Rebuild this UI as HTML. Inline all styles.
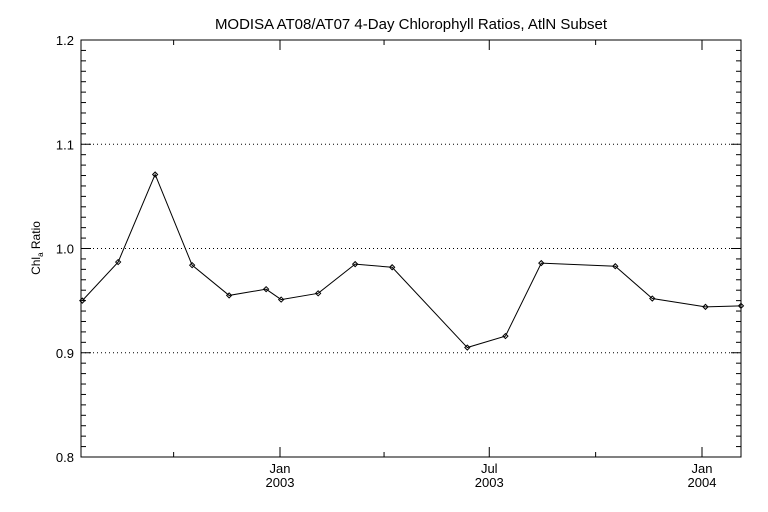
<!DOCTYPE html>
<html><head><meta charset="utf-8"><style>
body{margin:0;background:#fff;width:768px;height:512px;overflow:hidden}
svg{display:block;font-family:"Liberation Sans",sans-serif}
</style></head><body>
<svg id="chart" width="768" height="512" viewBox="0 0 768 512">
<text x="411" y="29" text-anchor="middle" font-size="15" fill="#000">MODISA AT08/AT07 4-Day Chlorophyll Ratios, AtlN Subset</text>
<text transform="translate(40,248) rotate(-90)" text-anchor="middle" font-size="12" fill="#000">Chl<tspan font-size="8" dy="3">a</tspan><tspan dy="-3"> Ratio</tspan></text>
<g id="grid"></g><g id="axes"></g><g id="series"></g>
</svg>
<script>
const dates=["2002-07-14","2002-08-14","2002-09-15","2002-10-17","2002-11-18","2002-12-20","2003-01-02","2003-02-03","2003-03-07","2003-04-08","2003-06-12","2003-07-15","2003-08-15","2003-10-18","2003-11-19","2004-01-04","2004-02-04"];
const ratios=[0.950,0.987,1.071,0.984,0.955,0.961,0.951,0.957,0.985,0.982,0.905,0.916,0.986,0.983,0.952,0.944,0.945];
const yTicks=[0.8,0.9,1.0,1.1,1.2];
const yTickLabels=["0.8","0.9","1.0","1.1","1.2"];
const xMajor=["2003-01-01","2003-07-01","2004-01-01"];
const xMajorLabels=[["Jan","2003"],["Jul","2003"],["Jan","2004"]];
const xMinor=["2002-10-01","2003-04-01","2003-10-01"];
const NS="http://www.w3.org/2000/svg";
const L=81,R=741,T=40,B=457;
const d0=Date.UTC(2003,0,1),pxDay=422/365;
function day(s){const p=s.split("-");return (Date.UTC(+p[0],p[1]-1,+p[2])-d0)/864e5;}
function xs(s){return 280+day(s)*pxDay;}
function ys(v){return B-(v-0.8)/0.4*(B-T);}
function mk(tag,a,parent){const e=document.createElementNS(NS,tag);for(const k in a)e.setAttribute(k,a[k]);parent.appendChild(e);return e;}
const grid=document.getElementById("grid"),axes=document.getElementById("axes"),ser=document.getElementById("series");
yTicks.forEach((v,i)=>{
 const y=ys(v);
 if(i>0&&i<yTicks.length-1){const g=mk("line",{x1:L,x2:R,y1:y,y2:y,stroke:"#000","stroke-width":1,"stroke-dasharray":"1,3"},grid);
 
 }
 const t=mk("text",{x:L-7,y:y+5,"text-anchor":"end","font-size":13},axes);t.textContent=yTickLabels[i];
 
 
 mk("line",{x1:L,x2:L+10,y1:y,y2:y,stroke:"#000"},axes);
 mk("line",{x1:R,x2:R-10,y1:y,y2:y,stroke:"#000"},axes);
});
for(let k=0;k<=40;k++){const v=0.8+k*0.01;if(k%10===0)continue;const y=ys(v);
 mk("line",{x1:L,x2:L+5,y1:y,y2:y,stroke:"#000"},axes);mk("line",{x1:R,x2:R-5,y1:y,y2:y,stroke:"#000"},axes);}
const frame=mk("rect",{x:L,y:T,width:R-L,height:B-T,fill:"none",stroke:"#000"},axes);


xMajor.forEach((s,i)=>{const x=xs(s);
 mk("line",{x1:x,x2:x,y1:B,y2:B-10,stroke:"#000"},axes);mk("line",{x1:x,x2:x,y1:T,y2:T+10,stroke:"#000"},axes);
 const t1=mk("text",{x:x,y:B+16,"text-anchor":"middle","font-size":13},axes);t1.textContent=xMajorLabels[i][0];
 
 
 const t2=mk("text",{x:x,y:B+30,"text-anchor":"middle","font-size":13},axes);t2.textContent=xMajorLabels[i][1];
 
 
});
xMinor.forEach(s=>{const x=xs(s);mk("line",{x1:x,x2:x,y1:B,y2:B-5,stroke:"#000"},axes);mk("line",{x1:x,x2:x,y1:T,y2:T+5,stroke:"#000"},axes);});
const pts=dates.map((d,i)=>[Math.min(R,xs(d)),ys(ratios[i])]);
const line=mk("polyline",{points:pts.map(p=>p.join(",")).join(" "),fill:"none",stroke:"#000","stroke-width":1},ser);


pts.forEach(p=>{const m=mk("path",{d:`M${p[0]-2.5},${p[1]}L${p[0]},${p[1]-2.5}L${p[0]+2.5},${p[1]}L${p[0]},${p[1]+2.5}Z`,fill:"none",stroke:"#000","stroke-width":1},ser);
 
 });
</script>
</body></html>
